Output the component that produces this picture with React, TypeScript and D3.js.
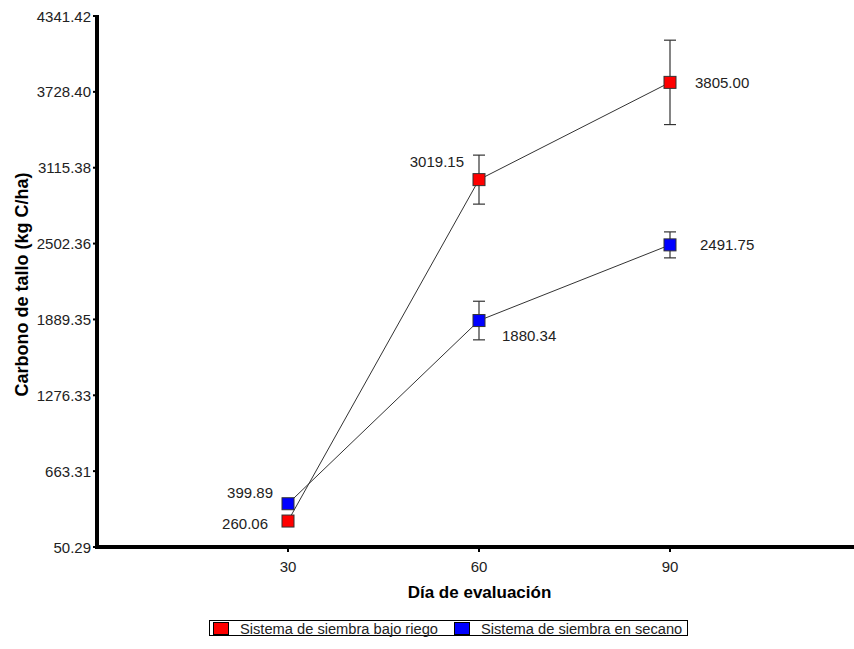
import React from "react";
import * as d3 from "d3";

const days = [30, 60, 90];
const xTicks = [30, 60, 90];
const yTicks = [50.29, 663.31, 1276.33, 1889.35, 2502.36, 3115.38, 3728.4, 4341.42];
const seriesNames = ["Sistema de siembra bajo riego", "Sistema de siembra en secano"];
const riegoValues = [260.06, 3019.15, 3805.0];
const riegoErrors = [0, 198, 341];
const secanoValues = [399.89, 1880.34, 2491.75];
const secanoErrors = [0, 156, 105];

const W = 854;
const H = 649;
const FONT = "'Liberation Sans', Arial, sans-serif";
const TXT = "#222";

export default function App() {
  const x = d3.scaleLinear().domain([0, 120]).range([97, 861]);
  const y = d3.scaleLinear().domain([50.29, 4341.42]).range([547, 16]);

  const series = [
    {
      name: seriesNames[0],
      values: riegoValues,
      errors: riegoErrors,
      color: "#ff0000",
      labels: [
        { dx: -20, dy: 2, anchor: "end" },
        { dx: -15, dy: -18, anchor: "end" },
        { dx: 25, dy: 0, anchor: "start" },
      ],
    },
    {
      name: seriesNames[1],
      values: secanoValues,
      errors: secanoErrors,
      color: "#0000ff",
      labels: [
        { dx: -15, dy: -11, anchor: "end" },
        { dx: 23, dy: 15, anchor: "start" },
        { dx: 30, dy: 0, anchor: "start" },
      ],
    },
  ];

  const line = d3
    .line<number>()
    .x((_, i) => x(days[i]))
    .y((d) => y(d));

  const ms = 12;

  return (
    <svg
      width={W}
      height={H}
      style={{ position: "absolute", left: 0, top: 0, background: "#fff" }}
      fontFamily={FONT}
    >
      <rect x={0} y={0} width={W} height={H} fill="#fff" />
      {/* lines */}
      {series.map((s) => (
        <path key={s.name + "l"} d={line(s.values) || ""} fill="none" stroke="#333" strokeWidth={1} />
      ))}
      {/* error bars */}
      {series.map((s) =>
        s.values.map((v, i) =>
          s.errors[i] > 0 ? (
            <g key={s.name + "e" + i} stroke="#333" strokeWidth={1.2}>
              <line x1={x(days[i])} x2={x(days[i])} y1={y(v + s.errors[i])} y2={y(v - s.errors[i])} />
              <line x1={x(days[i]) - 6} x2={x(days[i]) + 6} y1={y(v + s.errors[i])} y2={y(v + s.errors[i])} />
              <line x1={x(days[i]) - 6} x2={x(days[i]) + 6} y1={y(v - s.errors[i])} y2={y(v - s.errors[i])} />
            </g>
          ) : null
        )
      )}
      {/* markers */}
      {series.map((s) =>
        s.values.map((v, i) => (
          <rect
            key={s.name + "m" + i}
            x={x(days[i]) - ms / 2}
            y={y(v) - ms / 2}
            width={ms}
            height={ms}
            fill={s.color}
            stroke="#333"
            strokeWidth={1}
          />
        ))
      )}
      {/* data labels */}
      {series.map((s) =>
        s.values.map((v, i) => (
          <text
            key={s.name + "t" + i}
            x={x(days[i]) + s.labels[i].dx}
            y={y(v) + s.labels[i].dy}
            textAnchor={s.labels[i].anchor as any}
            dominantBaseline="central"
            fontSize={15}
            fill={TXT}
          >
            {v.toFixed(2)}
          </text>
        ))
      )}
      {/* axes */}
      <line x1={97} x2={97} y1={15} y2={549} stroke="#000" strokeWidth={4} />
      <line x1={95} x2={W} y1={547} y2={547} stroke="#000" strokeWidth={4} />
      {yTicks.map((t) => (
        <g key={"yt" + t}>
          <line x1={93} x2={97} y1={y(t)} y2={y(t)} stroke="#000" strokeWidth={2} />
          <text x={91} y={y(t)} textAnchor="end" dominantBaseline="central" fontSize={15} fill={TXT}>
            {t.toFixed(2)}
          </text>
        </g>
      ))}
      {xTicks.map((t) => (
        <g key={"xt" + t}>
          <line x1={x(t)} x2={x(t)} y1={547} y2={552} stroke="#000" strokeWidth={2} />
          <text x={x(t)} y={566} textAnchor="middle" dominantBaseline="central" fontSize={15} fill={TXT}>
            {t}
          </text>
        </g>
      ))}
      {/* axis titles */}
      <text x={479.5} y={592} textAnchor="middle" dominantBaseline="central" fontSize={17} fontWeight="bold" fill="#000">
        Día de evaluación
      </text>
      <text
        transform={`translate(22,284.5) rotate(-90)`}
        textAnchor="middle"
        dominantBaseline="central"
        fontSize={18}
        fontWeight="bold"
        fill="#000"
      >
        Carbono de tallo (kg C/ha)
      </text>
      {/* legend */}
      <rect x={209.5} y={620.5} width={478} height={15} fill="#fff" stroke="#000" strokeWidth={1} />
      {series.map((s, i) => {
        const lx = i === 0 ? 213 : 454;
        return (
          <g key={s.name + "lg"}>
            <rect x={lx + 0.5} y={622.5} width={15} height={12} fill={s.color} stroke="#000" strokeWidth={1} />
            <text x={lx + 27} y={628.5} dominantBaseline="central" fontSize={14.67} fill={TXT}>
              {s.name}
            </text>
          </g>
        );
      })}
    </svg>
  );
}
